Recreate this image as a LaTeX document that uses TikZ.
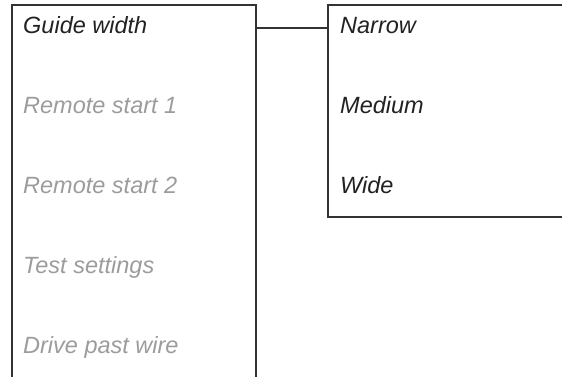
\documentclass[tikz,border=0pt]{standalone}
\usepackage{fontspec}
\setmainfont{Liberation Sans}
\usepackage{xcolor}
\usepackage{tikz}
\usetikzlibrary{positioning}

\definecolor{framegray}{HTML}{333333}
\definecolor{itemdark}{HTML}{222222}
\definecolor{itemgray}{HTML}{9C9C9D}

\begin{document}
\begin{tikzpicture}[
    x=1pt, y=-1pt,
    frame/.style={draw=framegray, line width=1.3pt},
    item/.style={anchor=base west, inner sep=0pt, font=\fontsize{23.5}{28}\selectfont\itshape},
    active/.style={item, text=itemdark},
    inactive/.style={item, text=itemgray},
    link/.style={draw=framegray, line width=1.3pt}
]
\useasboundingbox (0,0) rectangle (562,376);

% menu frames (open at the page edges)
\draw[frame] (12,390) -- (12,5) -- (256,5) -- (256,390);
\draw[frame] (575,5) -- (328,5) -- (328,217) -- (575,217);

% main menu
\node[active] (guide) at (23,33) {Guide width};
\node[inactive] (remote1) at (23,113) {Remote start 1};
\node[inactive] (remote2) at (23,193) {Remote start 2};
\node[inactive] (test) at (23,273) {Test settings};
\node[inactive] (drive) at (23,353) {Drive past wire};

% sub menu
\node[active] (narrow) at (340,33) {Narrow};
\node[active] (medium) at (340,113) {Medium};
\node[active] (wide) at (340,193) {Wide};

\coordinate (menuout) at (256,28);
\coordinate (subin) at (328,28);
\draw[link] (menuout) -- (subin);
\end{tikzpicture}
\end{document}
